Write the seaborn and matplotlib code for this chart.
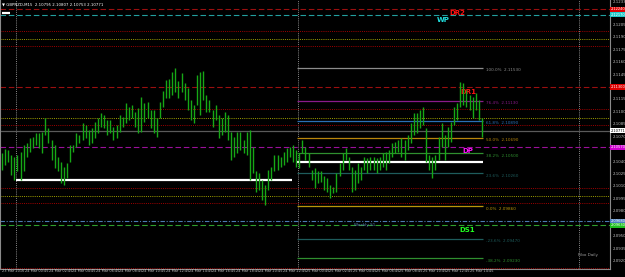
import matplotlib
matplotlib.use("Agg")
import matplotlib.pyplot as plt
import matplotlib.transforms as mtransforms
import numpy as np
import seaborn as sns

# ---------------- data ----------------
bar_high = [2.1050, 2.1055, 2.1054, 2.1048, 2.1046, 2.1048, 2.1052, 2.1060, 2.1062, 2.1069,
            2.1070, 2.1075, 2.1075, 2.1076, 2.1093, 2.1081, 2.1066, 2.1060, 2.1046, 2.1040,
            2.1034, 2.1038, 2.1060, 2.1060, 2.1075, 2.1072, 2.1087, 2.1084, 2.1078, 2.1081,
            2.1088, 2.1093, 2.1099, 2.1096, 2.1090, 2.1090, 2.1082, 2.1084, 2.1096, 2.1094,
            2.1111, 2.1106, 2.1108, 2.1100, 2.1105, 2.1118, 2.1111, 2.1112, 2.1102, 2.1102,
            2.1093, 2.1112, 2.1125, 2.1138, 2.1140, 2.1148, 2.1153, 2.1137, 2.1147, 2.1135,
            2.1129, 2.1114, 2.1108, 2.1144, 2.1148, 2.1149, 2.1120, 2.1114, 2.1102, 2.1108,
            2.1096, 2.1093, 2.1100, 2.1096, 2.1076, 2.1070, 2.1076, 2.1076, 2.1066, 2.1076,
            2.1078, 2.1058, 2.1028, 2.1026, 2.1018, 2.1012, 2.1030, 2.1034, 2.1048, 2.1048,
            2.1046, 2.1052, 2.1056, 2.1058, 2.1060, 2.1054, 2.1050, 2.1066, 2.1058, 2.1050,
            2.1030, 2.1032, 2.1028, 2.1028, 2.1022, 2.1020, 2.1012, 2.1009, 2.1026, 2.1038,
            2.1050, 2.1056, 2.1046, 2.1034, 2.1030, 2.1038, 2.1034, 2.1046, 2.1044, 2.1046,
            2.1046, 2.1044, 2.1046, 2.1050, 2.1052, 2.1054, 2.1062, 2.1064, 2.1066, 2.1069,
            2.1066, 2.1072, 2.1087, 2.1099, 2.1099, 2.1102, 2.1106, 2.1081, 2.1048, 2.1046,
            2.1048, 2.1070, 2.1087, 2.1072, 2.1082, 2.1088, 2.1106, 2.1111, 2.1136, 2.1135,
            2.1126, 2.1120, 2.1118, 2.1123, 2.1114, 2.1093]
bar_low = [2.1030, 2.1036, 2.1040, 2.1024, 2.1018, 2.1028, 2.1018, 2.1028, 2.1046, 2.1052,
           2.1056, 2.1060, 2.1056, 2.1050, 2.1072, 2.1062, 2.1042, 2.1032, 2.1028, 2.1014,
           2.1012, 2.1020, 2.1040, 2.1052, 2.1058, 2.1062, 2.1066, 2.1069, 2.1060, 2.1062,
           2.1069, 2.1075, 2.1082, 2.1081, 2.1072, 2.1075, 2.1066, 2.1069, 2.1076, 2.1082,
           2.1087, 2.1090, 2.1093, 2.1082, 2.1075, 2.1076, 2.1088, 2.1093, 2.1081, 2.1075,
           2.1070, 2.1093, 2.1106, 2.1117, 2.1117, 2.1120, 2.1124, 2.1117, 2.1124, 2.1114,
           2.1102, 2.1090, 2.1087, 2.1108, 2.1096, 2.1114, 2.1100, 2.1100, 2.1082, 2.1090,
           2.1069, 2.1072, 2.1076, 2.1066, 2.1042, 2.1046, 2.1050, 2.1054, 2.1050, 2.1048,
           2.1018, 2.1026, 2.1003, 2.1006, 2.0994, 2.0988, 2.1006, 2.1018, 2.1028, 2.1030,
           2.1034, 2.1036, 2.1040, 2.1046, 2.1040, 2.1034, 2.1032, 2.1050, 2.1042, 2.1034,
           2.1018, 2.1008, 2.1014, 2.1015, 2.1006, 2.1003, 2.0996, 2.1002, 2.1003, 2.1022,
           2.1030, 2.1042, 2.1030, 2.1003, 2.1006, 2.1014, 2.1018, 2.1030, 2.1026, 2.1030,
           2.1030, 2.1026, 2.1030, 2.1034, 2.1030, 2.1038, 2.1046, 2.1050, 2.1052, 2.1046,
           2.1042, 2.1054, 2.1062, 2.1072, 2.1075, 2.1081, 2.1084, 2.1040, 2.1030, 2.1020,
           2.1030, 2.1042, 2.1058, 2.1042, 2.1058, 2.1064, 2.1084, 2.1090, 2.1106, 2.1108,
           2.1106, 2.1102, 2.1093, 2.1102, 2.1090, 2.1070]

day_separators = [4.5, 95.5, 186.3]
time_labels = ["23 Mar 2016", "24 Mar 00:45", "24 Mar 02:45", "24 Mar 04:45", "24 Mar 06:45",
               "24 Mar 08:45", "24 Mar 10:45", "24 Mar 12:45", "24 Mar 14:45", "24 Mar 16:45",
               "24 Mar 18:45", "24 Mar 20:45", "24 Mar 22:45", "25 Mar 00:45", "25 Mar 02:45",
               "25 Mar 04:45", "25 Mar 06:45", "25 Mar 08:45", "25 Mar 10:45", "25 Mar 12:45",
               "25 Mar 14:45"]
price_ticks = [2.1233, 2.1220, 2.1205, 2.1190, 2.1175, 2.1160, 2.1145, 2.1130, 2.1115, 2.1100,
               2.1085, 2.1070, 2.1055, 2.1040, 2.1025, 2.1010, 2.0995, 2.0980, 2.0965, 2.0950,
               2.0935, 2.0920]

pivot_names = ["DR2", "WP", "DR1", "DP", "DS1"]
pivot_values = [2.1224, 2.1217, 2.1130, 2.1057, 2.0963]
weekly_s1 = 2.0968
band_red = [2.1197, 2.1179, 2.1103, 2.1084, 2.1008, 2.0990, 2.0912]
band_yellow = [2.1188, 2.1093, 2.0999]
current_price = 2.10771

fib_pcts = ["100.0%", "76.4%", "61.8%", "50.0%", "38.2%", "23.6%", "0.0%", "-23.6%", "-38.2%"]
fib_values = [2.11530, 2.11130, 2.10890, 2.10690, 2.10500, 2.10260, 2.09860, 2.09470, 2.09230]
fib_colors = ["#8c8c8c", "#8a1a8a", "#2a6fb5", "#b8860b", "#2f8f2f", "#1e5c5c", "#b8960b",
              "#1e5c5c", "#2f8f2f"]

support_levels = [2.1219, 2.1018, 2.1039]
support_start = [0.0, 4.5, 95.3]
support_end = [2.6, 93.6, 155.3]

# ---------------- style ----------------
sns.set_theme(style="dark")
plt.rcParams["font.family"] = ["DejaVu Sans"]

fig = plt.figure(figsize=(6.25, 2.77), dpi=100, facecolor="black")
ax = fig.add_axes([0, 8.5 / 277, 609.5 / 625, 268.5 / 277])
ax.set_facecolor("black")
ax.set_xlim(-0.65, 196.2)
ax.set_ylim(2.09109, 2.1235)
ax.set_xticks([])
ax.set_yticks([])
ax.grid(False)
ax.spines["top"].set_visible(False)
for side in ["left", "right", "bottom"]:
    ax.spines[side].set_color("#8a8a8a")
    ax.spines[side].set_linewidth(0.8)

# day separators
for s in day_separators:
    ax.axvline(s, color="#8a8a8a", lw=0.7, dashes=(1, 1.2), zorder=1)

# bands
for v in band_red:
    ax.axhline(v, color="#a00000", lw=0.7, dashes=(1, 1.2), zorder=1)
for v in band_yellow:
    ax.axhline(v, color="#a0a000", lw=0.7, dashes=(1, 1.2), zorder=1)

# pivots
piv_style = {"DR2": ("#9a0f0f", (5, 2.5)), "WP": ("#23a0a0", (5, 2.5)),
             "DR1": ("#9a0f0f", (5, 2.5)), "DP": ("#9a109a", (5, 2.5)),
             "DS1": ("#2f9f2f", (5, 2.5))}
for n, v in zip(pivot_names, pivot_values):
    c, d = piv_style[n]
    ax.axhline(v, color=c, lw=0.8, dashes=d, zorder=1)
ax.axhline(weekly_s1, color="#4a7ab0", lw=0.8, dashes=(4, 1.5, 1, 1.5), zorder=1)
ax.axhline(current_price, color="#5a5a5a", lw=0.9, zorder=1)

# fib lines
ax.hlines(fib_values, 95.3, 155.3, colors=fib_colors, lw=0.9, zorder=2)

# support (white)
ax.hlines(support_levels, support_start, support_end, colors="white", lw=1.6, zorder=3)

# bars
x = np.arange(len(bar_high))
ax.vlines(x, bar_low, bar_high, color="#16a816", lw=1.0, zorder=4)

# labels
yx = mtransforms.blended_transform_factory(ax.transAxes, ax.transData)
xy = mtransforms.blended_transform_factory(ax.transData, ax.transAxes)

box_items = [(pivot_values[0], "#e00000", "white"), (pivot_values[1], "#20c8c8", "white"),
             (pivot_values[2], "#e00000", "white"), (current_price, "white", "black"),
             (pivot_values[3], "#d000d0", "white"), (weekly_s1, "#4a80c0", "white"),
             (pivot_values[4], "#20c020", "white")]
box_vals = [b[0] for b in box_items]

for p in price_ticks:
    if min(abs(p - b) for b in box_vals) < 0.0006:
        continue
    ax.text(1 + 3 / 609.5, p, f"{p:.4f}", transform=yx, fontsize=2.8, color="#c0c0c0",
            va="center", ha="left", clip_on=False)

for v, bc, tc in box_items:
    ax.text(1 + 1.5 / 609.5, v, f"{v:.5f}", transform=yx, fontsize=2.6, color=tc,
            va="center", ha="left", clip_on=False, zorder=10,
            bbox=dict(boxstyle="square,pad=0.15", fc=bc, ec="none"))

for i, lab in enumerate(time_labels):
    ax.text(i * 7.55, -2.5 / 268.5, lab, transform=xy, fontsize=2.5, color="#c0c0c0",
            va="center", ha="left", clip_on=False)

for pct, v, c in zip(fib_pcts, fib_values, fib_colors):
    ax.annotate(f"{pct}  {v:.5f}", xy=(156.3, v), xytext=(0, -2.4),
                textcoords="offset pixels", fontsize=3, color=c, va="center", ha="left")

lab_pos = {"DR2": (147.2, -3.7, "#ff1010"), "WP": (142.4, -5.0, "#20e0e0"),
           "DR1": (150.5, -4.7, "#ff1010"), "DP": (150.3, -3.7, "#ff10ff"),
           "DS1": (150.3, -4.7, "#20ff20")}
for n, v in zip(pivot_names, pivot_values):
    px, dy, c = lab_pos[n]
    ax.annotate(n, xy=(px, v), xytext=(0, dy), textcoords="offset pixels", fontsize=5,
                fontweight="bold", color=c, va="center", ha="center")
ax.annotate("Weekly S1", xy=(117.2, weekly_s1), xytext=(0, -4), textcoords="offset pixels",
            fontsize=3, color="#5a86b8", va="center", ha="center")
ax.text(189.4, 2.0927, "Fibo Daily", fontsize=3, color="#9a9a9a", va="center", ha="center")

fig.text(2 / 625, 1 - 4 / 277, "\u25bc GBPNZD,M15  2.10795 2.10807 2.10753 2.10771",
         fontsize=2.8, color="white", va="center", ha="left")

fig.savefig("out.png", dpi=100, facecolor="black")
